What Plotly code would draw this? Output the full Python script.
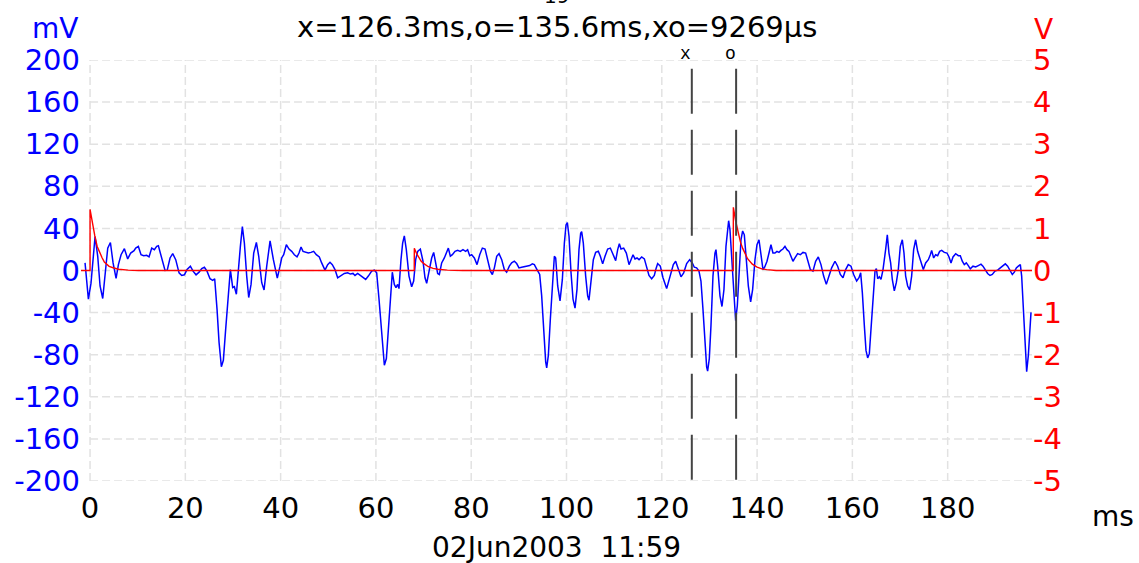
import plotly.graph_objects as go

# ---------------- data ----------------
t_blue = [
    -1.05, -0.35, 0.2, 1.05, 1.61, 2.1, 2.66, 3.15, 3.71, 4.27, 4.83, 5.46, 5.95, 6.51, 7.21, 7.9,
    8.53, 9.23, 9.58, 10.14, 10.7, 11.26, 11.89, 12.38, 12.94, 13.5, 13.99, 14.34, 14.9, 15.74,
    16.2, 16.79, 17.35, 17.98, 18.68, 19.24, 19.8, 20.36, 21.06, 21.62, 22.25, 22.88, 23.44, 24.0,
    24.55, 25.18, 25.74, 26.16, 26.65, 27.07, 27.56, 27.98, 28.47, 29.03, 29.45, 29.94, 30.29,
    30.71, 31.2, 31.55, 31.97, 32.39, 32.88, 33.3, 33.79, 34.35, 34.91, 35.4, 36.03, 36.52, 37.08,
    37.78, 38.48, 39.3, 39.87,
    40.22, 40.64, 41.2, 41.76, 42.32, 42.88, 43.44, 43.86, 44.28, 44.7, 45.26, 45.82, 46.37, 46.93,
    47.49, 48.12, 48.61, 49.31, 49.87, 50.36, 50.85, 51.41, 51.97, 52.67, 53.37, 54.07, 54.63,
    55.19, 55.61, 56.17, 56.73, 57.29, 57.85, 58.41, 59.11, 59.67, 60.16, 60.65, 61.07, 61.42,
    61.77, 62.19, 62.6, 63.02, 63.44, 63.86, 64.21, 64.56, 64.84, 65.26, 65.61, 65.96, 66.38,
    66.94, 67.5, 67.92, 68.34, 68.76, 69.32, 69.88, 70.3, 70.65, 71.14, 71.7, 72.12, 72.54, 72.96,
    73.31, 73.8, 74.36, 74.78, 75.2, 75.62, 76.04, 76.6, 77.16, 77.71, 78.27, 78.83, 79.25,
    79.68, 80.1, 80.66, 81.22, 81.78, 82.34, 82.9, 83.46, 84.02, 84.44, 84.86, 85.35, 85.84, 86.4,
    86.95, 87.44, 88.0, 88.49, 89.05, 89.54, 90.03, 90.59, 91.15, 91.71, 92.27, 92.83, 93.25,
    93.81, 94.37, 94.79, 95.21, 95.63, 95.84, 96.19, 96.61, 97.03, 97.45, 97.73, 98.15, 98.64,
    99.13, 99.55, 99.9, 100.18, 100.53, 100.95, 101.37, 101.79, 102.2, 102.62, 102.97, 103.18,
    103.53, 104.02, 104.44, 104.72, 105.14, 105.63, 106.12, 106.68, 107.1, 107.59, 108.08,
    108.64, 109.2, 109.76, 110.32, 110.74, 111.09, 111.44, 112.0, 112.56, 113.12, 113.54, 113.96,
    114.38, 114.8, 115.22, 115.78, 116.34, 116.83, 117.31, 117.87, 118.43, 118.8,
    119.13, 119.69, 120.25, 121.02, 121.72, 122.42, 122.91, 123.47, 124.03, 124.59, 125.22,
    125.85, 126.4, 126.82, 127.31, 127.8, 128.22, 128.64, 129.06, 129.41, 129.62, 129.97, 130.32,
    130.74, 131.16, 131.37, 131.72, 132.21, 132.63, 133.05, 133.47, 133.82, 134.03, 134.31,
    134.8, 135.22, 135.5, 135.85, 136.27, 136.62, 136.97, 137.32, 137.74, 138.16, 138.65, 139.07,
    139.56, 139.98, 140.4, 140.82, 141.24, 141.59, 142.08, 142.5, 142.91, 143.33, 143.75, 144.17,
    144.59, 145.01, 145.43, 145.85, 146.27, 146.69, 147.11, 147.53, 147.95, 148.51, 149.07,
    149.63, 150.19, 150.61, 151.17, 151.73, 152.29, 152.85, 153.41, 153.97, 154.53, 155.09,
    155.65, 156.35, 156.91, 157.47, 158.03, 158.59, 159.14,
    159.71, 160.27, 160.9, 161.39, 161.74, 162.09, 162.51, 162.86, 163.21, 163.56, 163.91,
    164.33, 164.75, 165.03, 165.31, 165.66, 166.01, 166.43, 166.71, 166.98, 167.33, 167.68,
    168.03, 168.38, 168.8, 169.22, 169.64, 170.06, 170.48, 170.83, 171.18, 171.6, 172.02, 172.44,
    172.86, 173.28, 173.7, 174.19, 174.54, 174.89, 175.38, 175.94, 176.36, 176.64, 177.06,
    177.48, 177.9, 178.32, 178.74, 179.3, 179.86, 180.28, 180.7, 181.12, 181.68, 182.24, 182.65,
    183.07, 183.49, 183.91, 184.33, 184.75, 185.31, 185.87, 186.43, 186.99, 187.41, 187.83,
    188.39, 188.88, 189.37, 189.93, 190.49, 191.05, 191.61, 192.1, 192.59, 193.08, 193.57,
    193.99, 194.41, 194.83, 195.25, 195.53, 195.88, 196.23, 196.58, 196.93, 197.28, 197.49,
]
mv_blue = [
    7.2, -27.3, -12.0, 32.3, 13.5, -14.7, -26.6, -5.3, 21.3, 26.6, 7.2, -7.5, 5.6, 15.0, 20.7, 11.0,
    16.6, 18.8, 21.3, 22.9, 15.0, 14.1, 14.4, 12.9, 21.3, 19.8, 22.9, 23.5, 12.9, 0.0,
    0.3, 11.9, 16.0, 10.3, -2.2, -4.7, -4.1, 0.9, 4.1, -0.6, -4.1, -1.6, 1.9, 3.1,
    -0.6, -7.8, -9.4, -7.8, -36.7, -68.0, -91.5, -85.3, -55.5, -21.0, 0.9, -16.3, -15.4,
    -22.6, 8.8, 22.9, 41.7, 26.0, -5.3, -25.7, -13.2, 16.6, 26.6, 13.5, -11.6, -18.5, 4.1,
    28.2, 10.3, -7.2, 4.1,
    11.9, 15.0, 24.5, 20.4, 18.2, 15.0, 12.9, 16.6, 22.3, 18.2, 17.6, 16.6, 17.2, 18.2,
    15.0, 12.9, 7.2, 0.3, 5.6, 7.8, 5.6, 0.9, -6.9, -4.7, -2.8, -2.2, -3.4,
    -2.8, -4.7, -2.8, -4.7, -6.3, -8.5, -5.3, -0.6, 0.3, -2.2, -27.3, -52.7, -77.4,
    -90.0, -83.7, -55.5, -24.1, -1.6, -13.2, -16.3, -13.2, -17.2, 10.3, 26.0, 32.9, 19.8,
    -5.3, -15.4, -10.0, 10.3, 18.2, 20.4, 8.8, -6.9, -12.2, -0.6, 11.9, 17.2, 7.2, -2.8,
    -3.8, 7.2, 11.9, 16.6, 21.3, 13.5, 15.0, 18.2, 19.1, 18.2, 19.8, 18.2, 19.8,
    14.1, 15.0, 11.9, 5.6, 15.0, 21.3, 20.4, 10.3, -0.6, -3.8, 2.5, 13.5, 16.0, 10.3,
    0.9, -1.6, 4.1, 7.2, 8.8, 6.6, 2.5, 3.1, 3.4, 4.1, 4.7, 6.3, 5.6,
    0.9, -3.8, -24.1, -58.6, -86.8, -92.5, -80.6, -46.1, -11.6, 13.5, 11.9, -14.7, -28.8,
    -8.5, 26.0, 43.3, 45.5, 32.3, -2.2, -27.3, -35.7, -17.9, 19.8, 35.4, 37.0,
    26.0, -5.3, -24.1, -28.2, -11.6, 10.3, 17.2, 18.2, 13.5, 6.3, 13.5,
    20.4, 21.3, 15.0, 9.4, 19.8, 25.4, 20.4, 21.3, 16.6, 5.6, 10.3, 15.0,
    11.0, 11.9, 10.3, 12.9, 11.0, 4.1, -4.7, -7.8, -4.7, 2.0,
    6.6, 4.1, -6.9, -17.2, -6.9, 5.6, 8.8, 0.9, -6.0, -2.2, 6.6,
    10.3, 7.2, 3.1, 2.5, -0.6, -10.0, -36.7, -71.2, -91.5, -95.6, -83.7, -52.4,
    -5.3, 16.6, 19.8, 4.1, -24.1, -34.2, -17.9, 22.9, 43.3, 47.3, 38.6,
    -2.2, -36.7, -47.7, -33.5, 4.1, 29.2, 37.6, 33.9, 10.3, -14.7, -29.8, -17.9,
    10.3, 24.5, 29.2, 16.6, 0.9, 3.1, 8.8, 16.6, 24.5, 16.6, 16.6, 18.2,
    17.2, 19.1, 20.4, 22.9, 19.8, 18.2, 12.9, 8.8, 11.9, 16.0, 15.0,
    17.2, 16.6, 8.8, 0.9, -0.6, 8.8, 12.9, 5.6, -5.3, -13.2, -5.3,
    2.5, 8.8, 4.1, -3.8, -6.9, 0.9, 5.6,
    4.1, -3.8, -10.0, -6.9, -2.2, -21.0, -52.4, -75.9, -83.1, -79.0, -55.5,
    -27.3, -0.6, 1.9, -7.8, -6.0, -8.5, 0.9, 13.5, 19.8, 33.9, 16.6,
    7.2, -8.5, -19.4, -11.6, 0.9, 22.9, 29.2, 16.6, -5.3, -14.7, -18.5, -5.3,
    19.8, 29.2, 18.2, 10.3, 4.1, 0.9, 7.2, 10.3, 15.0, 19.1, 11.9,
    15.0, 14.1, 18.2, 19.1, 17.2, 16.6, 12.9, 7.2, 12.9, 16.0, 14.1, 14.1,
    8.8, 5.6, 7.2, 4.7, 1.6, 4.1, 3.4, 4.7, 6.0, 4.1, 0.9,
    -2.8, -4.7, -3.8, -0.6, 0.3, 2.5, 4.7, 6.3, 4.1, -0.6, -3.8,
    -1.6, 2.5, 4.1, 5.6, -5.3, -33.5, -64.9, -96.2, -80.6, -55.5, -39.8,
]

t_red = [
    -1.9, 0.0, 0.0, 0.5, 1.0, 1.5, 2.0, 2.5, 3.0, 4.0, 5.0, 6.0, 8.0, 10.0,
    68.04, 68.06, 68.5, 69.0, 69.5, 70.0, 71.0, 72.0, 73.0, 75.0, 78.0,
    135.0, 135.02, 135.5, 136.0, 136.5, 137.0, 137.5, 138.0, 139.0, 140.0, 141.0, 142.0, 144.0,
    197.7,
]
v_red = [
    0.0, 0.0, 1.45, 1.08, 0.82, 0.57, 0.42, 0.31, 0.2, 0.1, 0.06, 0.03, 0.01, 0.0,
    0.0, 0.53, 0.41, 0.3, 0.22, 0.17, 0.09, 0.05, 0.03, 0.01, 0.0,
    0.0, 1.5, 1.18, 0.9, 0.68, 0.52, 0.38, 0.28, 0.15, 0.08, 0.04, 0.02, 0.0,
    0.0,
]

x_ticks = [0, 20, 40, 60, 80, 100, 120, 140, 160, 180]
mv_ticks = [200, 160, 120, 80, 40, 0, -40, -80, -120, -160, -200]
v_ticks = [5, 4, 3, 2, 1, 0, -1, -2, -3, -4, -5]
cursor_x = [126.3, 135.6]
cursor_labels = ["x", "o"]
title_text = "x=126.3ms,o=135.6ms,xo=9269µs"
date_text = "02Jun2003\u00a0\u00a011:59"

# ---------------- figure ----------------
FONT = "DejaVu Sans"
X_END = 197.7

fig = go.Figure()
fig.add_trace(go.Scatter(x=t_blue, y=mv_blue, mode="lines",
                         line=dict(color="#0000ff", width=1.5), yaxis="y",
                         hoverinfo="skip"))
fig.add_trace(go.Scatter(x=t_red, y=v_red, mode="lines",
                         line=dict(color="#ff0000", width=1.4), yaxis="y2",
                         hoverinfo="skip"))

shapes = []
grid_line = dict(color="#e2e2e2", width=1.5, dash="8px,4px")
for xv in x_ticks:
    shapes.append(dict(type="line", xref="x", yref="paper", x0=xv, x1=xv, y0=0, y1=1,
                       line=grid_line, layer="below"))
for yv in mv_ticks:
    shapes.append(dict(type="line", xref="x", yref="y", x0=0, x1=X_END, y0=yv, y1=yv,
                       line=grid_line, layer="below"))
for cx in cursor_x:
    shapes.append(dict(type="line", xref="x", yref="paper", x0=cx, x1=cx,
                       y0=0.979, y1=-0.005,
                       line=dict(color="#444444", width=2, dash="45px,16px"), layer="above"))

annotations = [
    dict(text=title_text, xref="paper", yref="paper", x=0.5, y=1.078,
         xanchor="center", yanchor="middle", showarrow=False,
         font=dict(family=FONT, size=29, color="black")),
    dict(text="mV", xref="paper", yref="paper", x=-0.0273, y=1.076,
         xanchor="center", yanchor="middle", showarrow=False,
         font=dict(family=FONT, size=28, color="#0000ff")),
    dict(text="V", xref="paper", yref="paper", x=1.0116, y=1.0713,
         xanchor="center", yanchor="middle", showarrow=False,
         font=dict(family=FONT, size=28, color="#ff0000")),
    dict(text="ms", xref="paper", yref="paper", x=1.0852, y=-0.0855,
         xanchor="center", yanchor="middle", showarrow=False,
         font=dict(family=FONT, size=28, color="black")),
    dict(text=date_text, xref="paper", yref="paper", x=0.5, y=-0.159,
         xanchor="center", yanchor="middle", showarrow=False,
         font=dict(family=FONT, size=28, color="black")),
    dict(text="19", xref="paper", yref="paper", x=0.5, y=1.152,
         xanchor="center", yanchor="middle", showarrow=False,
         font=dict(family=FONT, size=20, color="black")),
]
for cx, lab in zip(cursor_x, cursor_labels):
    annotations.append(dict(text=lab, xref="x", yref="paper", x=cx, y=1.0135, xshift=-6,
                            xanchor="center", yanchor="middle", showarrow=False,
                            font=dict(family="Liberation Mono", size=18, color="black")))

fig.update_layout(
    width=1139, height=563,
    margin=dict(l=81, r=107, t=60, b=82, pad=0),
    paper_bgcolor="white", plot_bgcolor="white",
    showlegend=False,
    shapes=shapes, annotations=annotations,
    xaxis=dict(range=[-1.9, X_END], tickvals=x_ticks, ticktext=[str(v) for v in x_ticks],
               showgrid=False, zeroline=False, showline=False, ticks="",
               ticklabelstandoff=7,
               tickfont=dict(family=FONT, size=29, color="black")),
    yaxis=dict(range=[-200, 200], tickvals=mv_ticks, ticktext=[str(v) for v in mv_ticks],
               showgrid=False, zeroline=False, showline=False, ticks="",
               tickfont=dict(family=FONT, size=29, color="#0000ff")),
    yaxis2=dict(range=[-5, 5], tickvals=v_ticks, ticktext=[str(v) for v in v_ticks],
                overlaying="y", side="right",
                showgrid=False, zeroline=False, showline=False, ticks="",
                tickfont=dict(family=FONT, size=29, color="#ff0000")),
)

fig.write_html("out.html")
